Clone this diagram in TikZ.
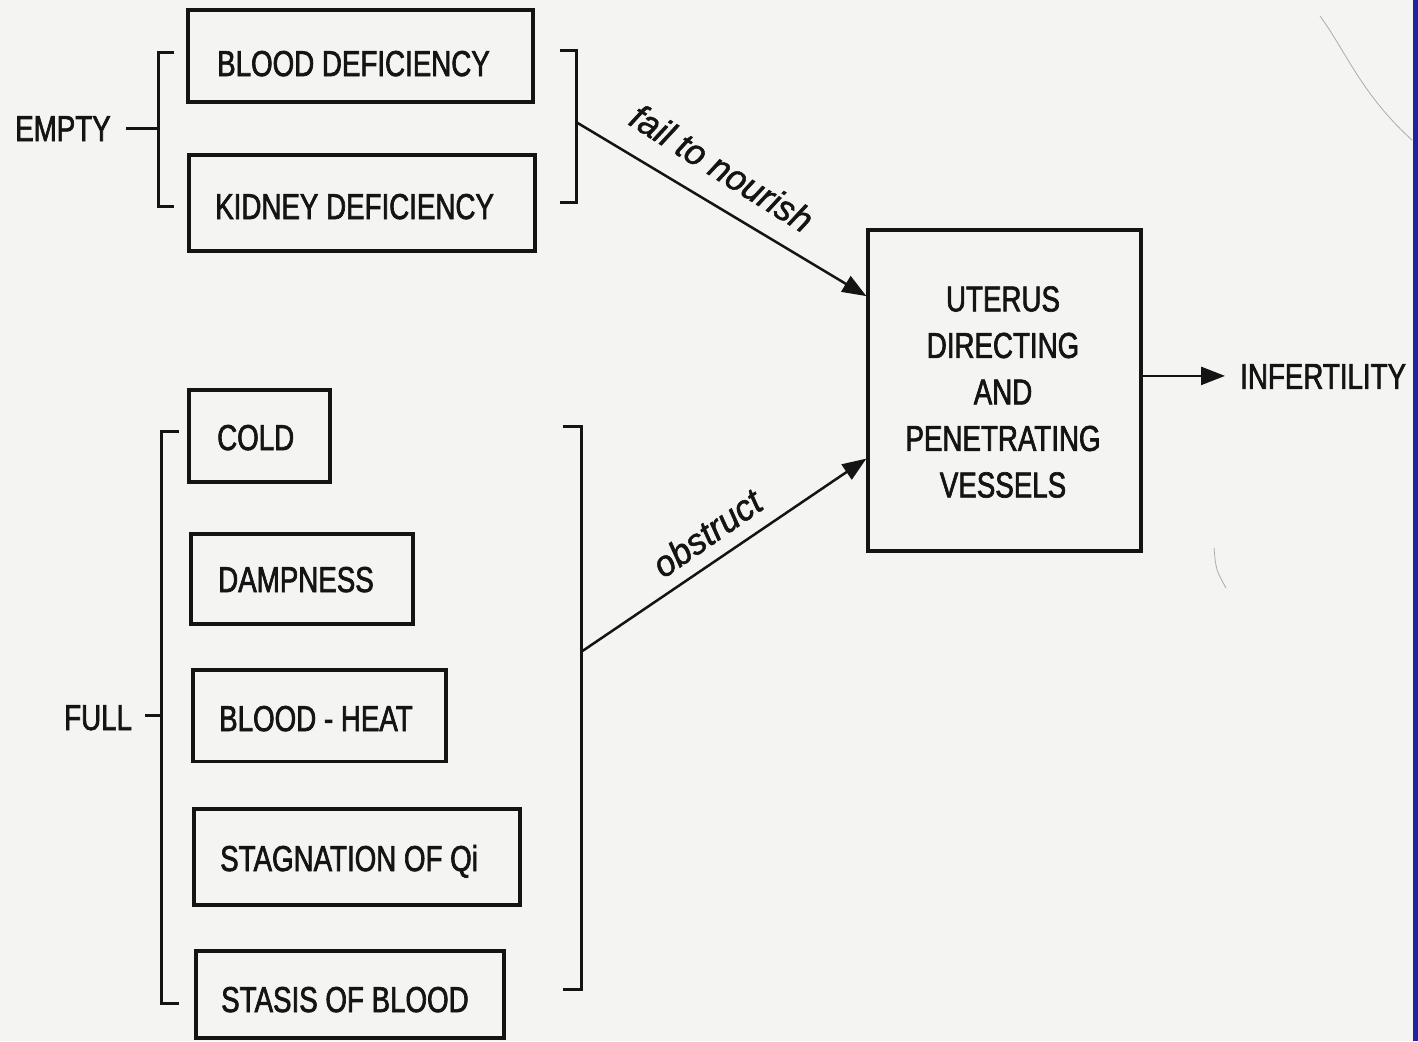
\documentclass[tikz,border=0pt]{standalone}
\usepackage{fontspec}
\usetikzlibrary{arrows.meta,calc}
\newfontfamily\condfont{Liberation Sans}[FakeStretch=0.77,FakeBold=1.8]
\newfontfamily\slopefont{Liberation Sans}[FakeStretch=0.97,FakeBold=1.4]
\definecolor{paper}{RGB}{244,244,242}
\definecolor{edgeblue}{RGB}{34,34,160}
\definecolor{ink}{RGB}{20,20,20}

\begin{document}
\begin{tikzpicture}[x=1pt,y=-1pt,
  causebox/.style={draw=ink, line width=3.2pt, inner sep=0pt},
  word/.style={inner sep=0pt, text=ink, font=\condfont\fontsize{36}{44}\selectfont},
  slopeword/.style={inner sep=0pt, text=ink, font=\slopefont\itshape\fontsize{36}{44}\selectfont},
  bracketline/.style={draw=ink, line width=3pt},
  link/.style={draw=ink, line width=2.5pt, -{Triangle[length=24pt,width=18pt]}},
  tie/.style={draw=ink, line width=3pt},
  scratch/.style={draw=gray!65, line width=0.8pt}]

% paper and frame
\fill[paper] (0,0) rectangle (1418,1041);
\useasboundingbox (0,0) rectangle (1418,1041);
\fill[edgeblue] (1413,0) rectangle (1418,1041);

% faint pen marks on the sheet
\draw[scratch] (1320,16) .. controls (1345,50) and (1362,95) .. (1412,140);
\draw[scratch] (1214,548) .. controls (1216,570) .. (1226,588);

% ---- empty group ----
\node[causebox, minimum width=345pt, minimum height=92pt] (bd) at (360.5,56) {};
\node[word, anchor=base west] (bdt) at (217,76) {BLOOD DEFICIENCY};
\node[causebox, minimum width=346pt, minimum height=96pt] (kd) at (362,203) {};
\node[word, anchor=base west] (kdt) at (215,219) {KIDNEY DEFICIENCY};

\node[word, inner xsep=15pt, anchor=base west] (empty) at (0,141) {EMPTY};
\coordinate (ebr) at (158,127);
\draw[bracketline] (174,53) -- (158,53) -- (158,206) -- (174,206);
\draw[bracketline] (560,51) -- (576,51) -- (576,202) -- (560,202);
\draw[tie] (empty.east) -- (empty.east -| ebr);

% ---- full group ----
\node[causebox, minimum width=141pt, minimum height=92pt] (cold) at (259.5,436) {};
\node[word, anchor=base west] (coldt) at (217,450) {COLD};
\node[causebox, minimum width=222pt, minimum height=90pt] (damp) at (302,579) {};
\node[word, anchor=base west] (dampt) at (218,592) {DAMPNESS};
\node[causebox, minimum width=253pt, minimum height=91.5pt] (heat) at (319.5,715.75) {};
\node[word, anchor=base west] (heatt) at (219,731) {BLOOD - HEAT};
\node[causebox, minimum width=326pt, minimum height=96pt] (stag) at (357,857) {};
\node[word, anchor=base west] (stagt) at (220,871) {STAGNATION OF Qi};
\node[causebox, minimum width=308pt, minimum height=87pt] (stas) at (350,994.5) {};
\node[word, anchor=base west] (stast) at (221,1012) {STASIS OF BLOOD};

\node[word, inner xsep=13pt, anchor=base west] (full) at (51,730) {FULL};
\coordinate (fbr) at (161,715);
\draw[bracketline] (179,431) -- (161,431) -- (161,1003) -- (179,1003);
\draw[bracketline] (563,426) -- (581,426) -- (581,989) -- (563,989);
\draw[tie] (full.east |- fbr) -- (fbr);

% ---- vessels and outcome ----
\node[causebox, minimum width=273pt, minimum height=321pt] (ut) at (1004.5,390.5) {};
\node[word, align=center, font=\condfont\fontsize{36}{46.5}\selectfont] (utt) at (1003,392)
  {UTERUS\\DIRECTING\\AND\\PENETRATING\\VESSELS};
\node[word, inner xsep=15pt, anchor=west] (inf) at (1225,376.5) {INFERTILITY};

\coordinate (tbr) at (576,122);
\coordinate (lbr) at (581,652);
\coordinate (ut-a) at ($(ut.north west)!0.209!(ut.south west)$);
\coordinate (ut-b) at ($(ut.north west)!0.710!(ut.south west)$);
\coordinate (ut-c) at ($(ut.north east)!0.455!(ut.south east)$);

\draw[link] (tbr) -- (ut-a);
\draw[link] (lbr) -- (ut-b);
\draw[link] (ut-c) -- (ut-c -| inf.west);

\node[slopeword, rotate=-32] (fail) at (722,168) {fail to nourish};
\node[slopeword, rotate=35] (obs) at (707,533) {obstruct};
\end{tikzpicture}
\end{document}
